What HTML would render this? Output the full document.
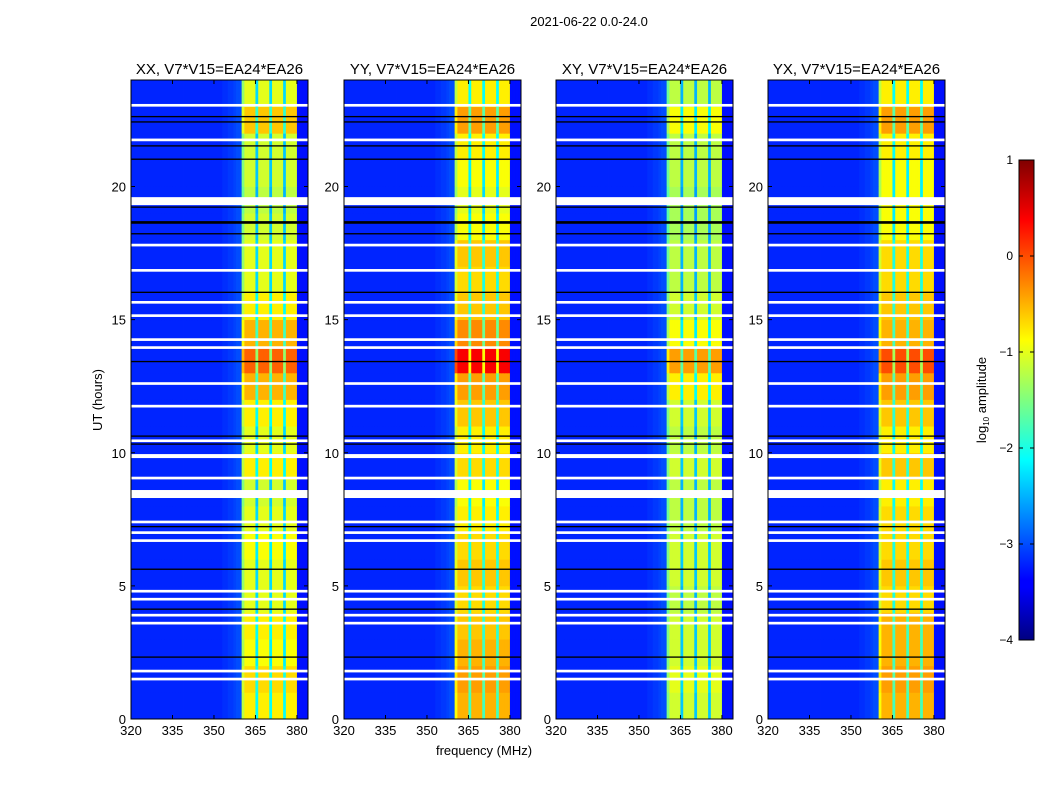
<!DOCTYPE html>
<html><head><meta charset="utf-8">
<style>
body{margin:0;background:#fff;}
svg text{font-family:"Liberation Sans","DejaVu Sans",sans-serif;}
</style></head>
<body>
<svg id="fig" width="1050" height="800" xmlns="http://www.w3.org/2000/svg">
<defs>
<linearGradient id="jet" x1="0" y1="1" x2="0" y2="0">
<stop offset="0" stop-color="#000080"/>
<stop offset="0.11" stop-color="#0000ff"/>
<stop offset="0.125" stop-color="#0000ff"/>
<stop offset="0.375" stop-color="#00ffff"/>
<stop offset="0.625" stop-color="#ffff00"/>
<stop offset="0.875" stop-color="#ff0000"/>
<stop offset="1" stop-color="#800000"/>
</linearGradient>
</defs>
<text x="589" y="26" font-size="13" text-anchor="middle">2021-06-22 0.0-24.0</text>
<text x="484" y="755" font-size="13" text-anchor="middle">frequency (MHz)</text>
<text x="102" y="400" font-size="13" text-anchor="middle" transform="rotate(-90 102 400)">UT (hours)</text>
<g id="panels"></g>
<g>
<rect x="1019" y="160" width="15" height="480" fill="url(#jet)" stroke="#000" stroke-width="1"/>
<g id="cbticks"></g>
<text x="986" y="400" font-size="13" text-anchor="middle" transform="rotate(-90 986 400)">log<tspan font-size="8" dy="3">10</tspan><tspan dy="-3"> amplitude</tspan></text>
</g>
</svg>
<script>
const titles = ["XX, V7*V15=EA24*EA26","YY, V7*V15=EA24*EA26","XY, V7*V15=EA24*EA26","YX, V7*V15=EA24*EA26"];
const xTicks = [320,335,350,365,380];
const yTicks = [0,5,10,15,20];
const cbTicks = [1,0,-1,-2,-3,-4];
const bandXX = [-0.8,-0.7,-0.9,-0.8,-1.0,-1.0,-0.9,-1.0,-1.1,-0.8,-1.0,-0.8,-0.5,-0.1,-0.5,-0.8,-1.0,-1.0,-1.1,-1.2,-1.1,-1.1,-0.6,-1.0];
const bandYY = [-0.5,-0.4,-0.5,-0.6,-0.7,-0.6,-0.7,-0.8,-0.9,-0.7,-0.8,-0.6,-0.4,0.4,-0.3,-0.6,-0.7,-0.6,-0.9,-1.0,-0.9,-0.8,-0.4,-0.8];
const bandXY = [-1.1,-1.0,-1.1,-1.1,-1.2,-1.1,-1.1,-1.2,-1.2,-1.1,-1.2,-1.1,-0.8,-0.4,-0.9,-1.1,-1.2,-1.2,-1.3,-1.3,-1.2,-1.2,-0.9,-1.2];
const bandYX = [-0.5,-0.4,-0.5,-0.5,-0.7,-0.6,-0.7,-0.7,-0.8,-0.6,-0.8,-0.6,-0.4,0.0,-0.5,-0.6,-0.7,-0.7,-0.9,-0.9,-0.9,-0.8,-0.4,-0.8];
// column profile 320..383 MHz: outside-band levels; null = inside band
const bgLevel = [-3.2,-3.2,-3.2,-3.2,-3.2,-3.2,-3.2,-3.2,-3.2,-3.2,-3.2,-3.2,-3.2,-3.2,-3.2,-3.2,-3.2,-3.2,-3.2,-3.2,-3.2,-3.2,-3.2,-3.2,-3.2,-3.2,-3.2,-3.2,-3.2,-3.2,-3.2,-3.2,-3.2,-3.15,-3.15,-3.1,-3.1,-3.05,-3.0,-3.0,null,null,null,null,null,null,null,null,null,null,null,null,null,null,null,null,null,null,null,null,-3.3,-3.3,-3.3,-3.3];
const bandOffset = [-0.4,0,0,0,0,-1.3,0,0,0,0,-1.3,0,0,0,0,-1.3,0,0,0,0];
const whiteRows = [[1.45,1.55],[1.75,1.85],[3.55,3.65],[3.85,3.95],[4.45,4.55],[4.75,4.85],[6.65,6.75],[6.95,7.05],[7.35,7.45],[8.3,8.6],[9.0,9.1],[9.8,9.95],[10.4,10.5],[11.7,11.8],[12.55,12.65],[13.9,14.0],[14.2,14.3],[15.1,15.2],[15.6,15.7],[16.8,16.9],[17.75,17.85],[19.3,19.6],[21.7,21.8],[23.0,23.1]];
const blackRows = [[2.3,2.35],[4.1,4.15],[5.6,5.65],[7.2,7.25],[10.3,10.35],[10.6,10.65],[13.4,13.45],[16.0,16.05],[18.2,18.25],[18.6,18.7],[19.2,19.25],[21.0,21.05],[21.5,21.55],[22.4,22.45],[22.6,22.65]];
const bands = [bandXX,bandYY,bandXY,bandYX];
const lefts = [131,344,556,768];
const W = 177, TOP = 80, BOT = 719;
const X0 = 320, X1 = 384, T0 = 0, T1 = 24, VMIN = -4, VMAX = 1;
const NS = "http://www.w3.org/2000/svg";
function jet(v){
  let t = Math.max(0,Math.min(1,(v-VMIN)/(VMAX-VMIN)));
  const f=(x)=>Math.max(0,Math.min(1,x));
  const r=f(Math.min(4*t-1.5,-4*t+4.5)), g=f(Math.min(4*t-0.5,-4*t+3.5)), b=f(Math.min(4*t+0.5,-4*t+2.5));
  return `rgb(${Math.round(r*255)},${Math.round(g*255)},${Math.round(b*255)})`;
}
function el(tag,attrs,parent){const e=document.createElementNS(NS,tag);for(const k in attrs)e.setAttribute(k,attrs[k]);parent.appendChild(e);return e;}
const yScale = (h)=> BOT - (h-T0)/(T1-T0)*(BOT-TOP);
const panelsG = document.getElementById('panels');
bands.forEach((band,p)=>{
  const L = lefts[p];
  const xScale = (f)=> L + (f-X0)/(X1-X0)*W;
  const g = el('g',{},panelsG);
  
  
  const hm = el('g',{},g);
  
  
  for(let r=0;r<band.length;r++){
    for(let c=0;c<bgLevel.length;c++){
      const v = bgLevel[c]===null ? band[r]+bandOffset[c-40] : bgLevel[c];
      const x0=xScale(X0+c), x1=xScale(X0+c+1), y0=yScale(r+1), y1=yScale(r);
      const rc = el('rect',{x:x0.toFixed(2),y:y0.toFixed(2),width:(x1-x0+0.4).toFixed(2),height:(y1-y0+0.4).toFixed(2),fill:jet(v)},hm);
      
      
    }
  }
  blackRows.forEach(([a,b])=>{
    const rr = el('rect',{x:L,y:yScale(b),width:W,height:Math.max(1,yScale(a)-yScale(b)),fill:'#000'},g);
    
    
  });
  whiteRows.forEach(([a,b])=>{
    const rr = el('rect',{x:L,y:yScale(b),width:W,height:Math.max(1.5,yScale(a)-yScale(b)),fill:'#fff'},g);
    
    
  });
  const fr = el('rect',{x:L,y:TOP,width:W,height:BOT-TOP,fill:'none',stroke:'#000','stroke-width':1},g);
  
  
  const t = el('text',{x:L+W/2,y:74,'font-size':15,'text-anchor':'middle'},g);
  t.textContent = titles[p];
  
  
  xTicks.forEach(v=>{
    const x=xScale(v);
    el('line',{x1:x,x2:x,y1:BOT,y2:BOT-4,stroke:'#000'},g);
    el('line',{x1:x,x2:x,y1:TOP,y2:TOP+4,stroke:'#000'},g);
    const tx = el('text',{x:x,y:BOT+16,'font-size':13,'text-anchor':'middle'},g);
    tx.textContent=v;
    
    
  });
  yTicks.forEach(v=>{
    const y=yScale(v);
    el('line',{x1:L,x2:L+4,y1:y,y2:y,stroke:'#000'},g);
    el('line',{x1:L+W,x2:L+W-4,y1:y,y2:y,stroke:'#000'},g);
    const ty = el('text',{x:L-5,y:y+5,'font-size':13,'text-anchor':'end'},g);
    ty.textContent=v;
    
    
  });
});
const cbg = document.getElementById('cbticks');
cbTicks.forEach(v=>{
  const y = 640 - (v-VMIN)/(VMAX-VMIN)*480;
  el('line',{x1:1019,x2:1023,y1:y,y2:y,stroke:'#000'},cbg);
  el('line',{x1:1034,x2:1030,y1:y,y2:y,stroke:'#000'},cbg);
  const tt = el('text',{x:1013,y:y+4,'font-size':12,'text-anchor':'end'},cbg);
  tt.textContent = v<0 ? '\u2212'+Math.abs(v) : String(v);
  
  
});
</script>
</body></html>
